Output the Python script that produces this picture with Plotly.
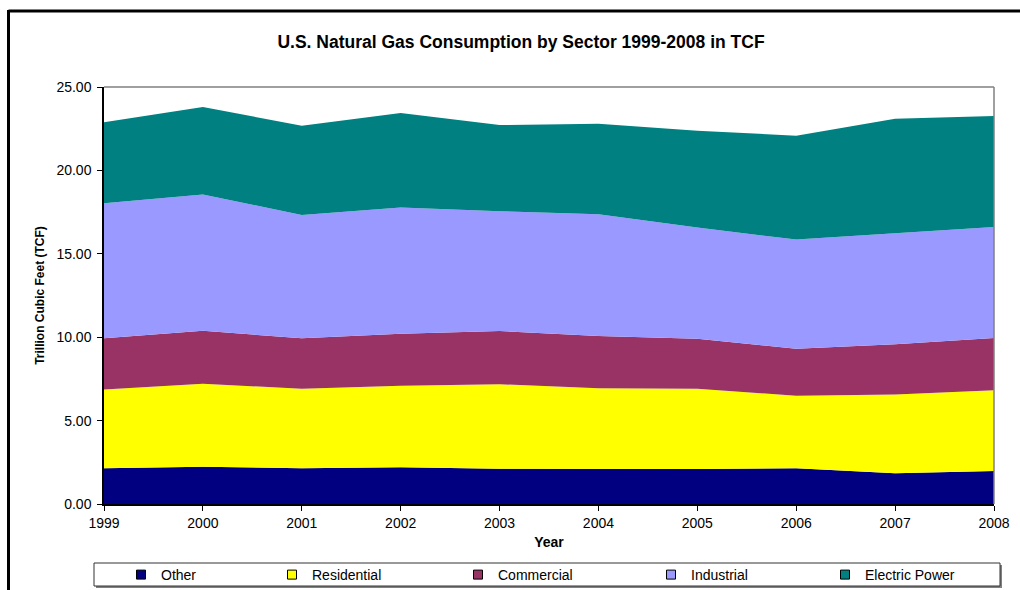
import plotly.graph_objects as go

years = [1999, 2000, 2001, 2002, 2003, 2004, 2005, 2006, 2007, 2008]
other = [2.14, 2.24, 2.14, 2.20, 2.12, 2.10, 2.10, 2.14, 1.84, 1.98]
residential = [4.73, 4.97, 4.77, 4.89, 5.06, 4.84, 4.81, 4.35, 4.73, 4.84]
commercial = [3.06, 3.18, 3.02, 3.12, 3.19, 3.13, 3.00, 2.82, 3.00, 3.13]
industrial = [8.10, 8.17, 7.40, 7.56, 7.18, 7.30, 6.66, 6.54, 6.66, 6.66]
electric_power = [4.85, 5.24, 5.35, 5.67, 5.17, 5.43, 5.81, 6.23, 6.87, 6.65]

series_names = ["Other", "Residential", "Commercial", "Industrial", "Electric Power"]
series_values = [other, residential, commercial, industrial, electric_power]
series_colors = ["#000080", "#FFFF00", "#993366", "#9999FF", "#008080"]
y_ticks = [0, 5, 10, 15, 20, 25]

W, H = 1020, 590
L, R, T, B = 104, 994, 87, 504
FONT = "Liberation Sans, Arial, sans-serif"


def px(x):
    return (x - L) / (R - L)


def py(y):
    return (B - y) / (B - T)


fig = go.Figure()
for name, vals, col in zip(series_names, series_values, series_colors):
    fig.add_trace(go.Scatter(
        x=years, y=vals, name=name, stackgroup="one", mode="lines",
        line=dict(width=0, color=col), fillcolor=col, showlegend=False,
        legendgroup=name, hoverinfo="x+y+name"))

# legend entries (square swatches like the original)
legend_ids = ["legend", "legend2", "legend3", "legend4", "legend5"]
text_starts = [161, 312, 498, 691, 865]
legend_layout = {}
for name, col, lid, ts in zip(series_names, series_colors, legend_ids, text_starts):
    fig.add_trace(go.Scatter(
        x=[None], y=[None], mode="markers", name=name, legend=lid,
        legendgroup=name,
        marker=dict(symbol="square", size=9, color=col,
                    line=dict(width=1, color="#000000"))))
    legend_layout[lid] = dict(
        x=px(ts - 40), y=py(575), xanchor="left", yanchor="middle",
        orientation="h", bgcolor="rgba(0,0,0,0)", borderwidth=0,
        font=dict(family=FONT, size=14, color="#000000"),
        itemclick=False, itemdoubleclick=False)

shapes = [
    # outer chart frame (left and top)
    dict(type="line", xref="paper", yref="paper", x0=px(8.5), x1=px(1030),
         y0=py(11), y1=py(11), line=dict(color="#000000", width=3)),
    dict(type="line", xref="paper", yref="paper", x0=px(8.5), x1=px(8.5),
         y0=py(10), y1=py(600), line=dict(color="#000000", width=3)),
    # plot area top/right border
    dict(type="line", xref="paper", yref="paper", x0=0, x1=1, y0=1, y1=1,
         line=dict(color="#808080", width=1.5), layer="above"),
    dict(type="line", xref="paper", yref="paper", x0=1, x1=1, y0=0, y1=1,
         line=dict(color="#808080", width=1.5), layer="above"),
    # legend box with shadow
    dict(type="rect", xref="paper", yref="paper", x0=px(96), x1=px(1002),
         y0=py(565), y1=py(588), fillcolor="#808080", line=dict(width=0)),
    dict(type="rect", xref="paper", yref="paper", x0=px(94), x1=px(1000),
         y0=py(563), y1=py(586), fillcolor="#FFFFFF",
         line=dict(color="#333333", width=1)),
]

fig.update_layout(
    width=W, height=H,
    margin=dict(l=L, r=W - R, t=T, b=H - B, autoexpand=False),
    paper_bgcolor="#FFFFFF", plot_bgcolor="#FFFFFF",
    font=dict(family=FONT, size=14, color="#000000"),
    title=dict(text="<b>U.S. Natural Gas Consumption by Sector 1999-2008 in TCF</b>",
               x=521 / W, xref="container", xanchor="center",
               y=1 - 42 / H, yref="container", yanchor="middle",
               font=dict(family=FONT, size=17.5, color="#000000")),
    xaxis=dict(range=[1999, 2008], tickmode="array", tickvals=years,
               ticktext=[str(y) for y in years], ticks="outside", ticklen=5,
               tickcolor="#000000", showline=True, linecolor="#000000",
               linewidth=1.5, showgrid=False, zeroline=False,
               tickfont=dict(size=14),
               title=dict(text="<b>Year</b>", standoff=8,
                          font=dict(size=14))),
    yaxis=dict(range=[0, 25], tickmode="array", tickvals=y_ticks,
               tickformat=".2f", ticks="outside", ticklen=5,
               ticklabelstandoff=3,
               tickcolor="#000000", showline=True, linecolor="#000000",
               linewidth=1.5, showgrid=False, zeroline=False,
               tickfont=dict(size=14),
               title=dict(text="<b>Trillion Cubic Feet (TCF)</b>", standoff=9,
                          font=dict(size=12))),
    shapes=shapes,
    **legend_layout,
)

fig.write_html("out.html", config={"displayModeBar": False},
               post_script="document.body.style.margin='0';")
